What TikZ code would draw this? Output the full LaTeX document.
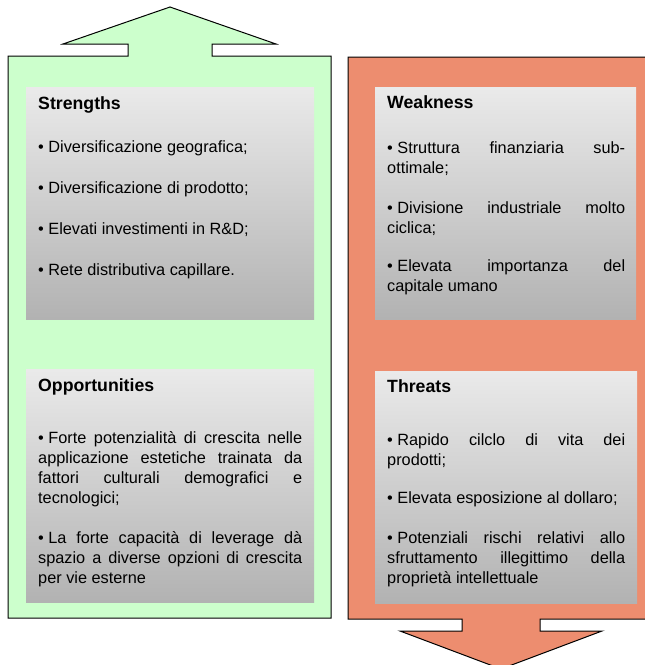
\documentclass[tikz,border=0pt]{standalone}
\usepackage{fontspec}
\setmainfont{Liberation Sans}
\usepackage{tikz}
\definecolor{verdino}{HTML}{CCFFCC}
\definecolor{salmone}{HTML}{ED8D6F}
\definecolor{grigioalto}{HTML}{EAEAEA}
\definecolor{grigiobasso}{HTML}{B2B2B2}

\begin{document}
\begin{tikzpicture}[x=1pt, y=-1pt, % coordinate in pixel, y verso il basso
		freccia/.style={draw=black, line width=1pt, line join=miter},
		riquadro/.style={top color=grigioalto, bottom color=grigiobasso, draw=none},
		titolo/.style={anchor=base west, inner sep=0pt,
			font=\bfseries\fontsize{17.7}{21}\selectfont},
		testo/.style={anchor=base west, inner sep=0pt, text width=#1,
			align=justify, font=\fontsize{16.3}{20}\selectfont}]
		\newcommand\punto{\textbullet\hspace{4.5pt}}
		\newcommand\stacco[1][20pt]{\\[#1]}
		\useasboundingbox (0, 0) rectangle (645, 665);
		% freccia verde verso l'alto
		\filldraw[freccia, fill=verdino]
			(8, 618) -- (8, 56) -- (128, 56) -- (128, 44) -- (63, 44)
			-- (170, 7) -- (276, 44) -- (212, 44) -- (212, 56)
			-- (331, 56) -- (331, 618) -- cycle;
		% freccia rossa verso il basso
		\filldraw[freccia, fill=salmone]
			(348, 57) -- (654, 57) -- (654, 619) -- (540, 619) -- (540, 631)
			-- (602, 631) -- (501, 669) -- (400, 631) -- (462, 631)
			-- (462, 619) -- (348, 619) -- cycle;
		% i quattro riquadri grigi
		\foreach \xa/\ya/\xb/\yb in {26/87/314/319, 26/369/314/602,
			375/87/636/319, 375/371/637/603} {
			\shade[riquadro] (\xa, \ya) rectangle (\xb, \yb);
		}
		% Strengths
		\node[titolo] (S) at (38, 109) {Strengths};
		\node[testo=264pt] (Stesto) at (38, 152.7) {%
			\punto Diversificazione geografica;\stacco[21pt]
			\punto Diversificazione di prodotto;\stacco[21pt]
			\punto Elevati investimenti in R\&D;\stacco[20.5pt]
			\punto Rete distributiva capillare.};
		% Weakness
		\node[titolo] (W) at (387, 108.5) {Weakness};
		\node[testo=238pt] (Wtesto) at (387, 153) {%
			\punto Struttura finanziaria sub-\linebreak ottimale;\stacco
			\punto Divisione industriale molto\linebreak ciclica;\stacco[18pt]
			\punto Elevata importanza del\linebreak capitale umano};
		% Opportunities
		\node[titolo] (O) at (38, 391) {Opportunities};
		\node[testo=264pt] (Otesto) at (38, 443.3) {%
			\punto Forte potenzialità di crescita nelle\linebreak
			applicazione estetiche trainata da\linebreak
			fattori culturali demografici e\linebreak
			tecnologici;\stacco
			\punto La forte capacità di leverage dà\linebreak
			spazio a diverse opzioni di crescita\linebreak
			per vie esterne};
		% Threats
		\node[titolo] (T) at (387, 392) {Threats};
		\node[testo=238pt] (Ttesto) at (387, 445.5) {%
			\punto Rapido cilclo di vita dei\linebreak prodotti;\stacco[18pt]
			\punto Elevata esposizione al dollaro;\stacco
			\punto Potenziali rischi relativi allo\linebreak
			sfruttamento illegittimo della\linebreak
			proprietà intellettuale};
	\end{tikzpicture}
\end{document}
